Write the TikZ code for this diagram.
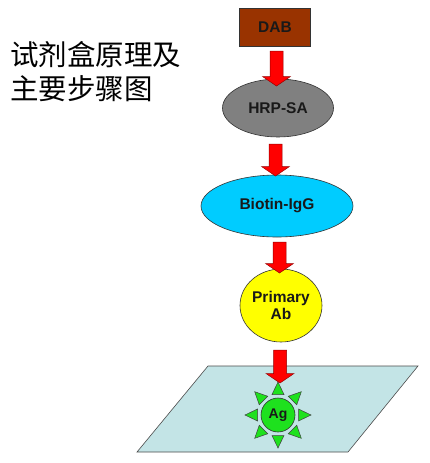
\documentclass[tikz,border=0pt]{standalone}
\usepackage{fontspec}
\setmainfont{Liberation Sans}
\newfontfamily\cjk{Noto Sans CJK SC}
\usetikzlibrary{shapes.geometric,calc}
\definecolor{dabbrown}{RGB}{153,51,0}
\definecolor{hrpgray}{RGB}{128,128,128}
\definecolor{biocyan}{RGB}{0,204,255}
\definecolor{primyellow}{RGB}{255,255,0}
\definecolor{platecol}{RGB}{195,228,230}
\definecolor{aggreen}{RGB}{30,225,30}
\definecolor{arrowred}{RGB}{255,0,0}
\definecolor{arrowedge}{RGB}{150,0,0}
\newcommand\blockarrow[2]{%
  \path[blockarrowstyle] let \p1=#1, \p2=#2 in
    (\x1-6.5pt,\y1) -- (\x1+6.5pt,\y1) -- (\x1+6.5pt,\y2+9.5pt) --
    (\x1+14pt,\y2+9.5pt) -- (\x2,\y2) -- (\x1-14pt,\y2+9.5pt) --
    (\x1-6.5pt,\y2+9.5pt) -- cycle;}
\tikzset{
  blockarrowstyle/.style={fill=arrowred,draw=arrowedge,line width=0.5pt,line join=miter},
  labeltext/.style={font=\bfseries\fontsize{15.5}{17}\selectfont,text=black!90,align=center,inner sep=0pt},
  shapebox/.style={draw=black!80,line width=0.6pt,labeltext},
}
\begin{document}
\begin{tikzpicture}[x=1pt,y=-1pt]
\useasboundingbox[fill=white] (0,0) rectangle (430,463);
% title
\node[anchor=base west,inner sep=0pt,align=left,font=\cjk\fontsize{28.5}{34}\selectfont] (title) at (10,99) {试剂盒原理及\\主要步骤图};
% shapes
\node[shapebox,rectangle,fill=dabbrown,minimum width=71pt,minimum height=38pt] (dab) at (275,27) {DAB};
\node[shapebox,ellipse,fill=hrpgray,minimum width=111pt,minimum height=58pt] (hrp) at (278,108) {HRP-SA};
\node[shapebox,ellipse,fill=biocyan,minimum width=152pt,minimum height=62pt] (bio) at (277,206) {Biotin-IgG};
\node[shapebox,ellipse,fill=primyellow,minimum width=82pt,minimum height=73pt] (prim) at (281,305.5) {Primary\\Ab};
% plate
\draw[fill=platecol,draw=black!70,line width=0.6pt] (208,366) -- (418,366) -- (348,452) -- (137,452) -- cycle;
\node[shapebox,circle,fill=aggreen,minimum size=34pt,font=\bfseries\fontsize{14}{16}\selectfont] (ag) at (278,415) {Ag};
\begin{scope}[shift={(ag.center)}]
  \foreach \a in {0,45,...,315}
    \draw[fill=aggreen,draw=black!75,line width=0.5pt]
      ($(\a:20.5)+(\a+90:6)$) -- (\a:33) -- ($(\a:20.5)+(\a-90:6)$) -- cycle;
\end{scope}
% arrows
\coordinate (a1s) at (276.5,51);  \coordinate (a1e) at (276.5,86);
\coordinate (a2s) at (275.5,144); \coordinate (a2e) at (275.5,176);
\coordinate (a3s) at (279.5,242); \coordinate (a3e) at (279.5,273);
\coordinate (a4s) at (280,350);   \coordinate (a4e) at (280,383);
\blockarrow{(a1s)}{(a1e)}
\blockarrow{(a2s)}{(a2e)}
\blockarrow{(a3s)}{(a3e)}
\blockarrow{(a4s)}{(a4e)}
\end{tikzpicture}
\end{document}
